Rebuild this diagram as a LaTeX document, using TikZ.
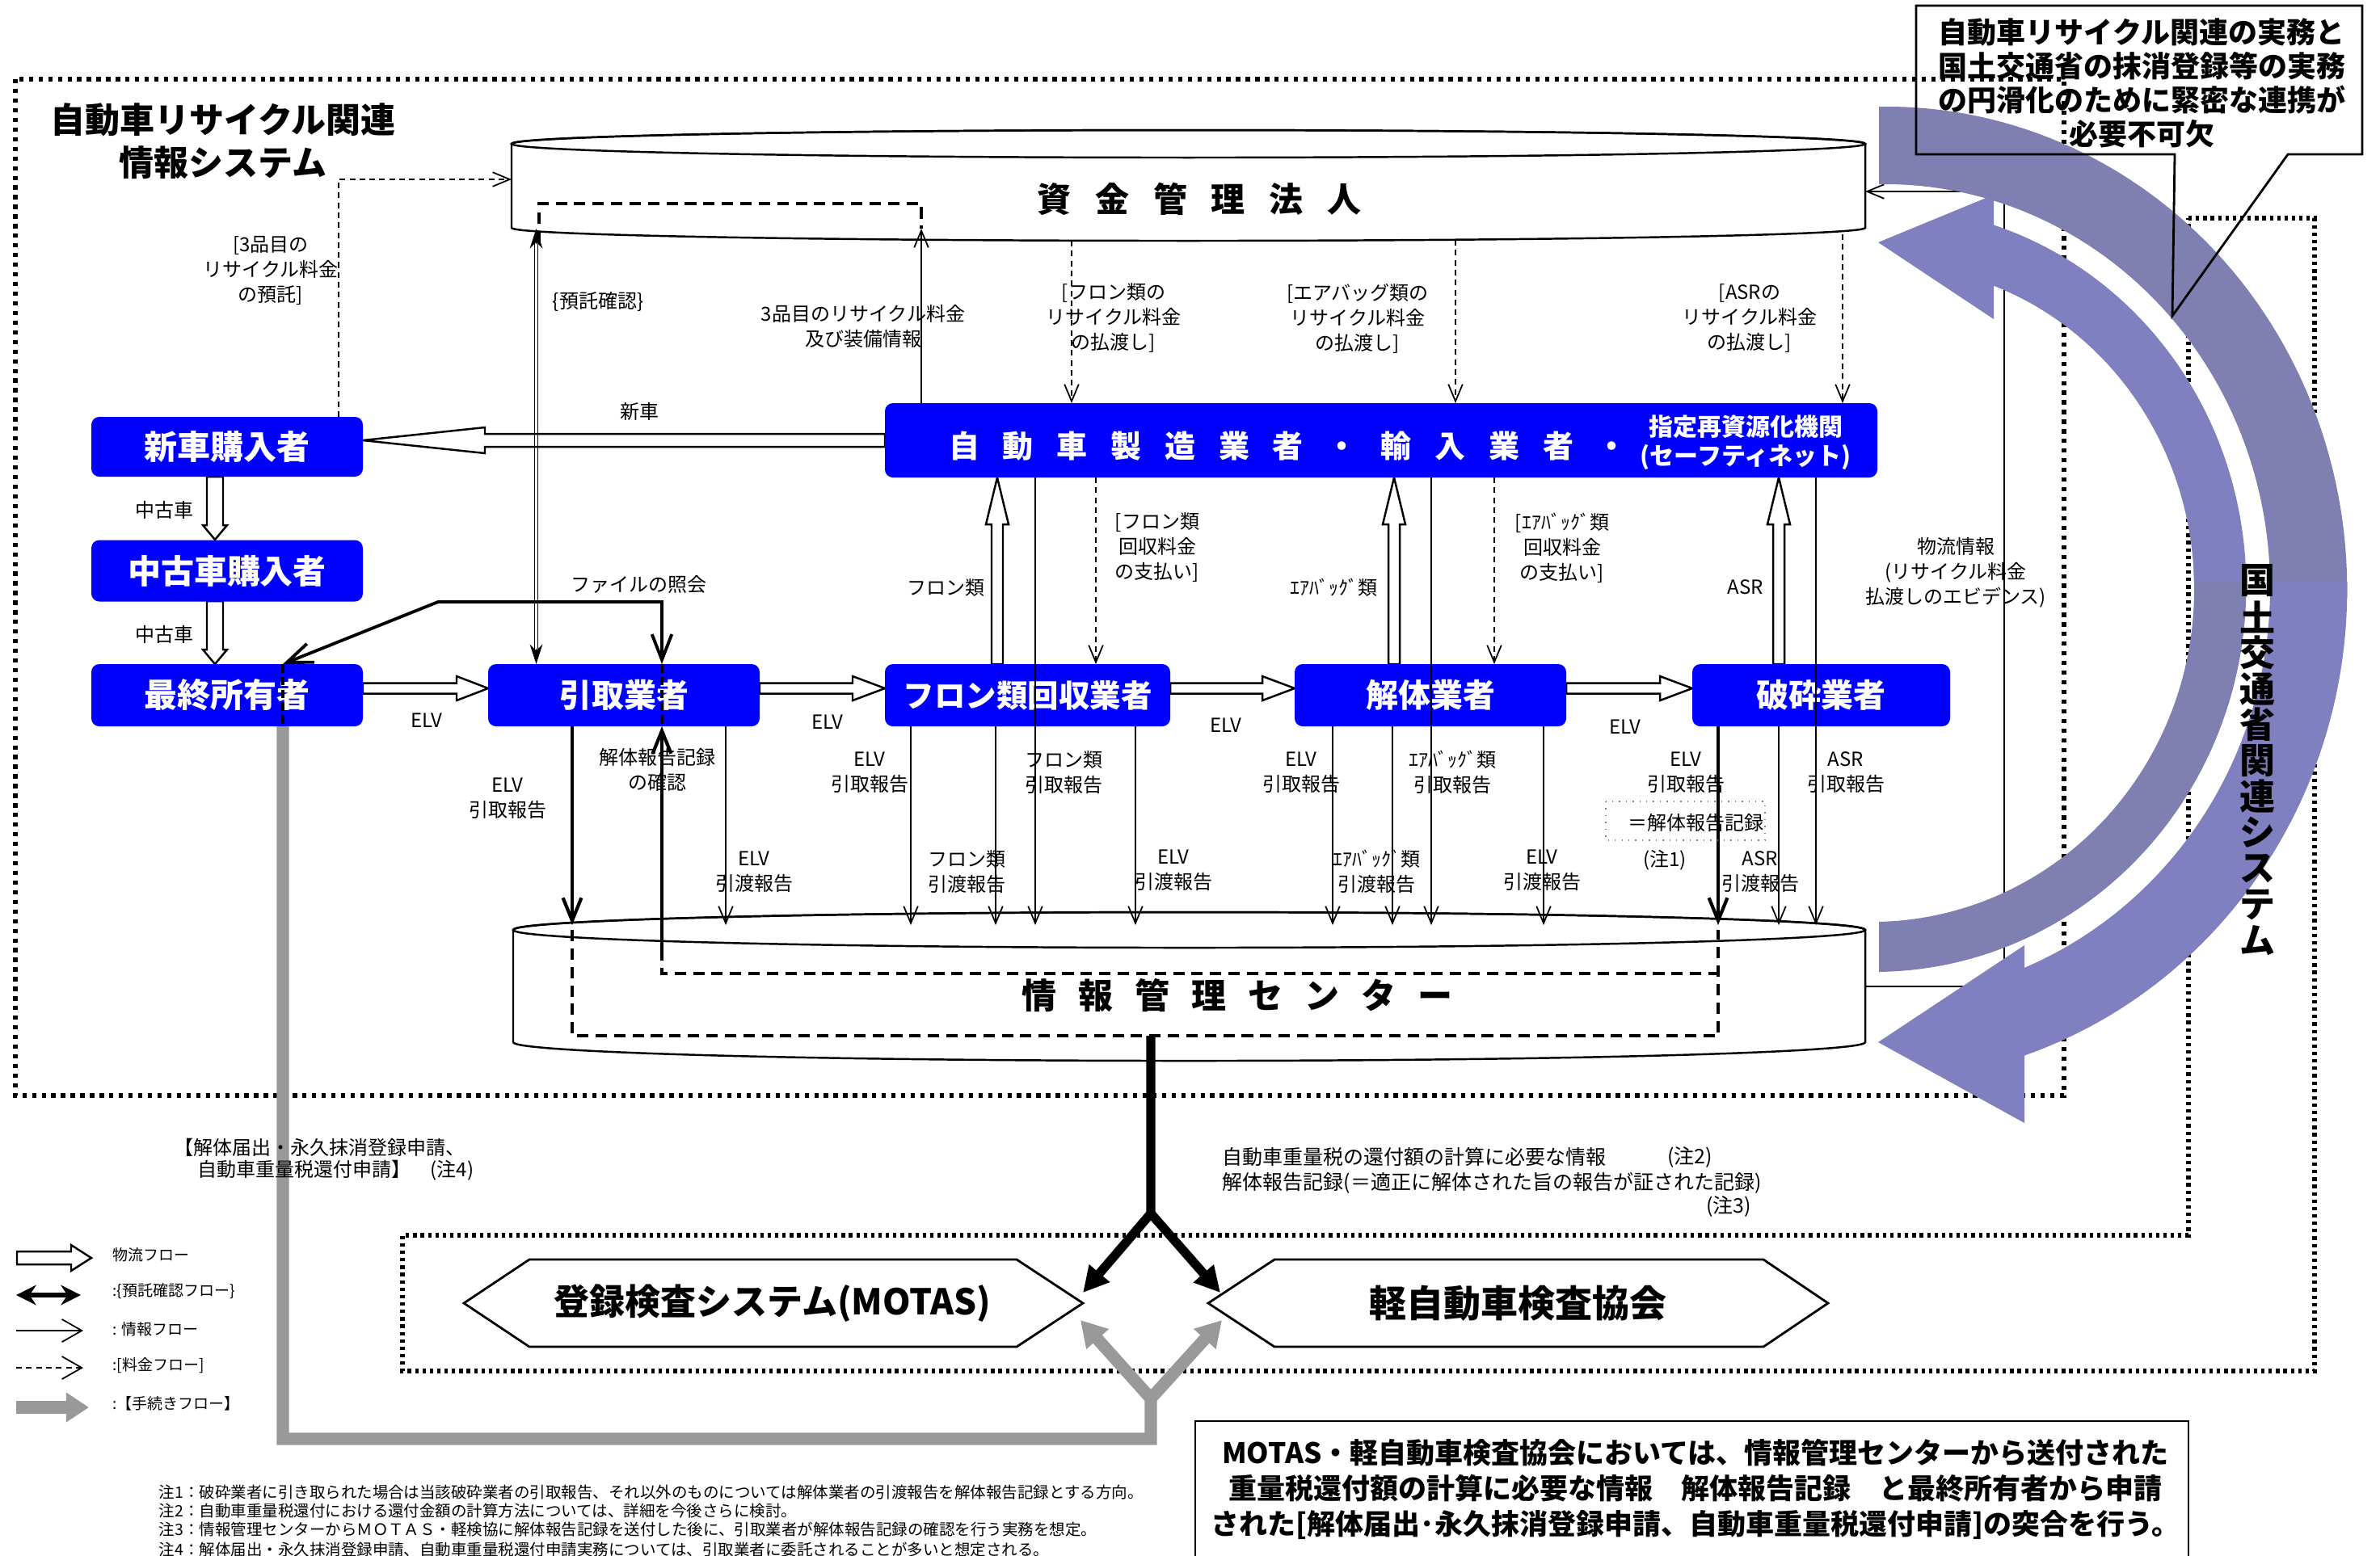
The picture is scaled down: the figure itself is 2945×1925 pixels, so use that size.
\documentclass[tikz,border=0pt]{standalone}
\usepackage{fontspec}
\setmainfont{Noto Sans CJK JP}
\usetikzlibrary{arrows.meta}
\newdimen\pxu \pxu=0.2845pt
\newcommand\fsz[2]{\fontsize{#1\pxu}{#2\pxu}\selectfont}
\definecolor{pD}{RGB}{127,127,178}
\definecolor{pL}{RGB}{128,128,192}
\definecolor{grF}{RGB}{153,153,153}
\newcommand\hblk[6]{\draw[blk] (#1,{#4-#5}) -- (#2,{#4-#5}) -- (#2,{#4-#6}) -- (#3,#4) -- (#2,{#4+#6}) -- (#2,{#4+#5}) -- (#1,{#4+#5}) -- cycle;}
\newcommand\vblk[6]{\draw[blk] ({#4-#5},#1) -- ({#4-#5},#2) -- ({#4-#6},#2) -- (#4,#3) -- ({#4+#6},#2) -- ({#4+#5},#2) -- ({#4+#5},#1) -- cycle;}
% outer cooperation band: r_out=588+0.1711t, r_in=492+0.1345t
\newcommand\obandseg[2]{plot[domain=#1:#2,samples=60] ({2325+0.96*(588+0.1711*\x)*sin(\x)},{720-(588+0.1711*\x)*cos(\x)}) -- plot[domain=#2:#1,samples=60] ({2325+0.96*(492+0.1345*\x)*sin(\x)},{720-(492+0.1345*\x)*cos(\x)}) -- cycle}
% inner cooperation band: r_out=466+0.1074(t-21.7), r_in=395+0.1642(t-21.7)
\newcommand\ibandseg[2]{plot[domain=#1:#2,samples=60] ({2325+0.96*(466+0.1074*(\x-21.7))*sin(\x)},{720-(466+0.1074*(\x-21.7))*cos(\x)}) -- plot[domain=#2:#1,samples=60] ({2325+0.96*(395+0.1642*(\x-21.7))*sin(\x)},{720-(395+0.1642*(\x-21.7))*cos(\x)}) -- cycle}
\newcommand\gA{\kern8.2pt}
\newcommand\gB{\kern8.5pt}
\newcommand\gC{\kern7.7pt}
\begin{document}
\begin{tikzpicture}[x=0.1mm,y=-0.1mm,
  bx/.style={fill=blue, rounded corners=2.8pt, text=white, font=\bfseries\fsz{40}{40}, inner sep=0pt},
  lb/.style={font=\fsz{24}{31}, align=center, inner sep=0pt},
  ln/.style={line width=0.5pt},
  info/.style={ln, -{Straight Barb[length=6pt,width=5pt]}},
  fee/.style={info, dash pattern=on 2pt off 1.5pt},
  thk/.style={line width=1.2pt, -{Straight Barb[length=8pt,width=6.5pt]}},
  blk/.style={draw=black, fill=white, line width=0.7pt},
  dotb/.style={line width=1.7pt, dash pattern=on 1.5pt off 1.9pt},
  dotc/.style={line width=1.6pt, dash pattern=on 1.2pt off 1.4pt},
  bdash/.style={line width=1.1pt, dash pattern=on 4pt off 2.5pt},
  cyl/.style={line width=0.7pt}]
\useasboundingbox (0,0) rectangle (2945,1925);
% dotted frames
\draw[dotb] (19,98) rectangle (2554,1356);
\draw[dotc] (2708,270) -- (2864,270) -- (2864,1697) -- (498,1697) -- (498,1529) -- (2708,1529) -- cycle;
% title
\node[font=\bfseries\fsz{43}{53}, align=center, inner sep=0pt] (title) at (276,175) {自動車リサイクル関連\\情報システム};
% top cylinder
\draw[cyl, fill=white] (633,178) -- (633,282) arc[start angle=180, end angle=0, x radius=837.5, y radius=16] -- (2308,178) arc[start angle=0, end angle=-180, x radius=837.5, y radius=17] -- cycle;
\draw[cyl] (1470.5,178) ellipse[x radius=837.5, y radius=17];
\node[font=\bfseries\fsz{42}{42}, inner sep=0pt] (fund) at (1484,246) {資\gB 金\gB 管\gB 理\gB 法\gB 人};
% bottom cylinder
\draw[cyl, fill=white] (635,1151) -- (635,1290) arc[start angle=180, end angle=0, x radius=836.5, y radius=23] -- (2308,1151) arc[start angle=0, end angle=-180, x radius=836.5, y radius=22] -- cycle;
\draw[cyl] (1471.5,1151) ellipse[x radius=836.5, y radius=22];
\node[font=\bfseries\fsz{43}{43}, inner sep=0pt] (center) at (1531,1232) {情\gC 報\gC 管\gC 理\gC セ\gC ン\gC タ\gC ー};
% block arrows (physical flow)
\hblk{1095}{600}{449}{545}{8}{16}
\vblk{590}{650}{668}{266}{10}{15}
\vblk{744}{804}{822}{266}{10}{15}
\hblk{449}{565}{604}{852}{6.5}{15}
\hblk{940}{1055}{1095}{852}{6.5}{15}
\hblk{1448}{1562}{1602}{852}{6.5}{15}
\hblk{1938}{2054}{2094}{852}{6.5}{15}
\vblk{822}{649}{591}{1234}{7}{14}
\vblk{822}{649}{591}{1725}{7}{14}
\vblk{822}{649}{591}{2201}{7}{14}
% blue boxes
\node[bx, font=\bfseries\fsz{41}{41}, minimum width=33.6mm, minimum height=7.4mm] (shinsha) at (281,553) {新車購入者};
\node[bx, font=\bfseries\fsz{41}{41}, minimum width=33.6mm, minimum height=7.6mm] (chuko) at (281,706.5) {中古車購入者};
\node[bx, font=\bfseries\fsz{41}{41}, minimum width=33.6mm, minimum height=7.7mm] (owner) at (281,860.5) {最終所有者};
\node[bx, minimum width=33.6mm, minimum height=7.7mm] (hiki) at (772,860.5) {引取業者};
\node[bx, font=\bfseries\fsz{38.5}{38.5}, minimum width=35.3mm, minimum height=7.7mm] (fron) at (1271.5,860.5) {フロン類回収業者};
\node[bx, minimum width=33.6mm, minimum height=7.7mm] (kaitai) at (1770,860.5) {解体業者};
\node[bx, minimum width=31.9mm, minimum height=7.7mm] (hasai) at (2253.5,860.5) {破砕業者};
\node[bx, minimum width=122.8mm, minimum height=9.2mm] (mfr) at (1709,545) {};
\node[font=\bfseries\fsz{38}{38}, text=white, inner sep=0pt] (mfrt) at (1594,552) {自\gA 動\gA 車\gA 製\gA 造\gA 業\gA 者\gA ・\gA 輸\gA 入\gA 業\gA 者\gA ・};
\node[font=\bfseries\fsz{30}{36}, text=white, align=center, inner sep=0pt] (sft) at (2160,548) {指定再資源化機関\\(セーフティネット)};
% fee flows
\draw[fee] (419,516) -- (419,222) -- (633,222);
\draw[fee] (1326,298) -- (1326,499);
\draw[fee] (1801,297) -- (1801,499);
\draw[fee] (2280,290) -- (2280,499);
\draw[fee] (1356,591) -- (1356,822);
\draw[fee] (1849,591) -- (1849,822);
% info flows up to fund
\draw[info] (1140,499) -- (1140,283);
\draw[ln] (661.5,300) -- (661.5,805) (665.5,300) -- (665.5,805);
\draw[ln, -{Stealth[length=7pt,width=4.5pt]}] (663.5,302) -- (663.5,283);
\draw[ln, -{Stealth[length=7pt,width=4.5pt]}] (663.5,803) -- (663.5,822);
\draw[bdash] (667,300) -- (667,252) -- (1140,252) -- (1140,283);
% logistics info path
\draw[info] (2308,1221) -- (2480,1221) -- (2480,237) -- (2308,237);
% report lines to info center
\draw[info] (898,899) -- (898,1145);
\draw[info] (1127,899) -- (1127,1145);
\draw[info] (1232,899) -- (1232,1145);
\draw[info] (1281,591) -- (1281,1145);
\draw[info] (1405,899) -- (1405,1145);
\draw[info] (1649,899) -- (1649,1145);
\draw[info] (1723,899) -- (1723,1145);
\draw[info] (1771,591) -- (1771,1145);
\draw[info] (1910,899) -- (1910,1145);
\draw[info] (2201,899) -- (2201,1145);
\draw[info] (2247,591) -- (2247,1145);
\draw[thk] (708,899) -- (708,1145);
\draw[thk] (2126,899) -- (2126,1145);
\draw[thk] (819,1175) -- (819,899);
\draw[bdash] (819,1175) -- (819,1205) -- (2126,1205);
\draw[bdash] (708,1151) -- (708,1282) -- (2126,1282) -- (2126,1151);
% file inquiry
\draw[line width=1.1pt, {Straight Barb[length=9pt,width=7pt]}-{Straight Barb[length=9pt,width=7pt]}] (350,822) -- (542,745) -- (819,745) -- (819,822);
\draw[line width=1.1pt, dash pattern=on 3pt off 1.5pt] (350,822) -- (350,899) (819,822) -- (819,899);
% labels upper
\node[lb] (l3h) at (335,335) {[3品目の\\リサイクル料金\\の預託]};
\node[lb] (lyot) at (740,373) {\{預託確認\}};
\node[lb] (l3h2) at (1068,404) {3品目のリサイクル料金\\及び装備情報};
\node[lb] (lfr1) at (1378,394) {[フロン類の\\リサイクル料金\\の払渡し]};
\node[lb] (lab1) at (1680,394) {[エアバッグ類の\\リサイクル料金\\の払渡し]};
\node[lb] (las1) at (2165,394) {[ASRの\\リサイクル料金\\の払渡し]};
\node[lb] (lshin) at (791,509) {新車};
\node[lb] (lch1) at (203,631) {中古車};
\node[lb] (lch2) at (203,785) {中古車};
\node[lb] (lfile) at (790,723) {ファイルの照会};
\node[lb] (lfr2) at (1170,727) {フロン類};
\node[lb] (lfr3) at (1432,678) {[フロン類\\回収料金\\の支払い]};
\node[lb] (lab2) at (1650,727) {ｴｱﾊﾞｯｸﾞ類};
\node[lb] (lab3) at (1933,678) {[ｴｱﾊﾞｯｸﾞ類\\回収料金\\の支払い]};
\node[lb] (las2) at (2160,727) {ASR};
\node[lb] (lbut) at (2420,709) {物流情報\\(リサイクル料金\\払渡しのエビデンス)};
\node[lb] (le1) at (528,892) {ELV};
\node[lb] (le2) at (1024,894) {ELV};
\node[lb] (le3) at (1517,898) {ELV};
\node[lb] (le4) at (2011,900) {ELV};
% labels lower
\node[lb] (r1) at (628,988) {ELV\\引取報告};
\node[lb] (r2) at (813,953) {解体報告記録\\の確認};
\node[lb] (r3) at (933,1079) {ELV\\引渡報告};
\node[lb] (r4) at (1076,956) {ELV\\引取報告};
\node[lb] (r5) at (1316,956) {フロン類\\引取報告};
\node[lb] (r6) at (1196,1079) {フロン類\\引渡報告};
\node[lb] (r7) at (1452,1077) {ELV\\引渡報告};
\node[lb] (r8) at (1610,956) {ELV\\引取報告};
\node[lb] (r9) at (1797,956) {ｴｱﾊﾞｯｸﾞ類\\引取報告};
\node[lb] (r10) at (1703,1079) {ｴｱﾊﾞｯｸﾞ類\\引渡報告};
\node[lb] (r11) at (1908,1077) {ELV\\引渡報告};
\node[lb] (r12) at (2086,956) {ELV\\引取報告};
\node[lb] (r13) at (2284,956) {ASR\\引取報告};
\draw[gray, line width=0.4pt, dotted] (1987,992) rectangle (2184,1040);
\node[lb] (r14) at (2098,1018) {＝解体報告記録};
\node[lb] (r15) at (2060,1065) {(注1)};
\node[lb] (r16) at (2178,1079) {ASR\\引渡報告};
% lower system area
\draw[line width=0.8pt, fill=white] (574,1613) -- (655,1559) -- (1258,1559) -- (1340,1613) -- (1258,1667) -- (655,1667) -- cycle;
\node[font=\bfseries\fsz{44}{44}, inner sep=0pt] (motas) at (956,1613) {登録検査システム(MOTAS)};
\draw[line width=0.8pt, fill=white] (1495,1613) -- (1577,1559) -- (2182,1559) -- (2262,1613) -- (2182,1667) -- (1577,1667) -- cycle;
\node[font=\bfseries\fsz{46}{46}, inner sep=0pt] (kei) at (1878,1613) {軽自動車検査協会};
\draw[line width=3.2pt, line join=miter, -{Triangle[length=9pt,width=9pt]}] (1424,1282) -- (1424,1502) -- (1340,1600);
\draw[line width=3.2pt, -{Triangle[length=9pt,width=9pt]}] (1424,1502) -- (1510,1600);
\draw[grF, line width=4.3pt, line join=miter, -{Triangle[length=9pt,width=10pt]}] (350,899) -- (350,1781) -- (1424,1781) -- (1424,1731) -- (1337,1634);
\draw[grF, line width=4.3pt, -{Triangle[length=9pt,width=10pt]}] (1424,1731) -- (1512,1634);
\node[font=\fsz{24}{30}, anchor=west, inner sep=0pt] (proc1) at (215,1420) {【解体届出・永久抹消登録申請、};
\node[font=\fsz{24}{30}, anchor=west, inner sep=0pt] (proc2) at (244,1449) {自動車重量税還付申請】\quad(注4)};
\node[font=\fsz{25}{30}, anchor=west, inner sep=0pt] (n2a) at (1512,1432) {自動車重量税の還付額の計算に必要な情報};
\node[font=\fsz{25}{30}, inner sep=0pt] (n2b) at (2091,1432) {(注2)};
\node[font=\fsz{25}{30}, anchor=west, inner sep=0pt] (n3a) at (1512,1464) {解体報告記録(＝適正に解体された旨の報告が証された記録)};
\node[font=\fsz{25}{30}, inner sep=0pt] (n3b) at (2139,1493) {(注3)};
% purple cooperation arrows
\fill[pD] \ibandseg{88}{180};
\fill[pL] \ibandseg{18}{90};
\fill[pL] (2324,300) -- (2467,241) -- (2467,395) -- cycle;
\fill[pD] \obandseg{0}{92};
\fill[pL] \obandseg{90}{165};
\fill[pL] (2324,1290) -- (2505,1170) -- (2505,1390) -- cycle;
% vertical label
\foreach \c [count=\i] in {国,土,交,通,省,関,連,シ,ス,テ,ム}
  \node[font=\bfseries\fsz{44}{44}, inner sep=0pt] (v\i) at (2793,{719+(\i-1)*44.5}) {\c};
% callout
\draw[line width=0.8pt] (2691,191) -- (2371,191) -- (2371,7) -- (2923,7) -- (2923,191) -- (2831,191) -- (2688,391) -- cycle;
\node[font=\bfseries\fsz{36}{42}, align=center, inner sep=0pt] (callt) at (2650,103) {自動車リサイクル関連の実務と\\国土交通省の抹消登録等の実務\\の円滑化のために緊密な連携が\\必要不可欠};
% legend
\hblk{21}{88}{113}{1557}{8}{16}
\draw[line width=1.8pt, {Stealth[length=7pt,width=7pt]}-{Stealth[length=7pt,width=7pt]}] (20,1603) -- (100,1603);
\draw[ln, -{Straight Barb[length=7pt,width=8pt]}] (20,1647) -- (103,1647);
\draw[ln, dash pattern=on 2pt off 1.5pt, -{Straight Barb[length=7pt,width=8pt]}] (20,1693) -- (103,1693);
\draw[grF, line width=4.3pt, -{Triangle[length=8pt,width=10pt]}] (20,1742) -- (110,1742);
\node[font=\fsz{19}{24}, anchor=west, inner sep=0pt] (g1) at (139,1553) {物流フロー};
\node[font=\fsz{19}{24}, anchor=west, inner sep=0pt] (g2) at (139,1598) {:\{預託確認フロー\}};
\node[font=\fsz{19}{24}, anchor=west, inner sep=0pt] (g3) at (139,1645) {: 情報フロー};
\node[font=\fsz{19}{24}, anchor=west, inner sep=0pt] (g4) at (139,1690) {:[料金フロー]};
\node[font=\fsz{19}{24}, anchor=west, inner sep=0pt] (g5) at (139,1737) {:【手続きフロー】};
% notes
\node[font=\fsz{19.5}{24}, anchor=west, inner sep=0pt] (note1) at (196,1847) {注1：破砕業者に引き取られた場合は当該破砕業者の引取報告、それ以外のものについては解体業者の引渡報告を解体報告記録とする方向。};
\node[font=\fsz{19.5}{24}, anchor=west, inner sep=0pt] (note2) at (196,1870) {注2：自動車重量税還付における還付金額の計算方法については、詳細を今後さらに検討。};
\node[font=\fsz{19.5}{24}, anchor=west, inner sep=0pt] (note3) at (196,1893) {注3：情報管理センターからＭＯＴＡＳ・軽検協に解体報告記録を送付した後に、引取業者が解体報告記録の確認を行う実務を想定。};
\node[font=\fsz{19.5}{24}, anchor=west, inner sep=0pt] (note4) at (196,1918) {注4：解体届出・永久抹消登録申請、自動車重量税還付申請実務については、引取業者に委託されることが多いと想定される。};
% bottom memo box
\draw[line width=0.8pt] (1479,1945) -- (1479,1759) -- (2708,1759) -- (2708,1945);
\node[font=\bfseries\fsz{35}{44}, align=center, inner sep=0pt] (memo) at (2098,1843) {MOTAS・軽自動車検査協会においては、情報管理センターから送付された\\重量税還付額の計算に必要な情報　解体報告記録　と最終所有者から申請\\された[解体届出･永久抹消登録申請、自動車重量税還付申請]の突合を行う。};
\end{tikzpicture}
\end{document}
